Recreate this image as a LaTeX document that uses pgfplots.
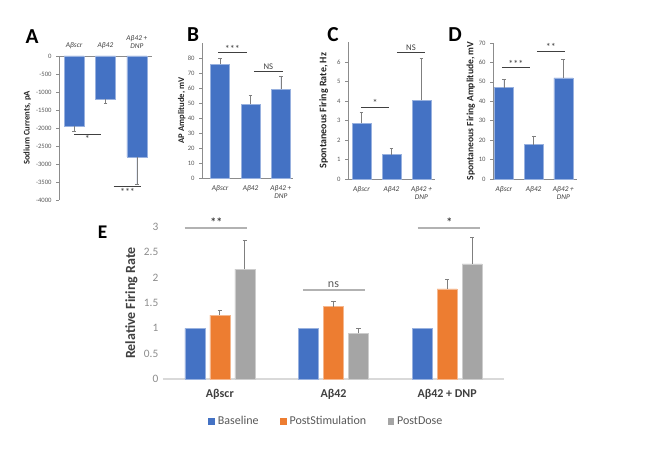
\documentclass[border=0pt]{standalone}
\usepackage{fontspec}
\setmainfont{Carlito}
\usepackage{pgfplots}
\pgfplotsset{compat=1.18}
\definecolor{bblue}{HTML}{4472C4}
\definecolor{borange}{HTML}{ED7D31}
\definecolor{bgray}{HTML}{A5A5A5}
\definecolor{axgray}{HTML}{8C8C8C}
\definecolor{tgray}{HTML}{595959}
\definecolor{lgray}{HTML}{8C8C8C}
\definecolor{dtext}{HTML}{404040}
\definecolor{ebgray}{HTML}{7F7F7F}

\pgfplotsset{
  panel/.style={
    scale only axis, anchor=south west, clip=false,
    ybar, bar width=14.25pt,
    axis y line*=left, axis x line*=bottom,
    axis line style={draw=axgray, line width=0.5pt},
    xtick={0,1,2},
    xticklabels={Aβscr, Aβ42, Aβ42 +\\DNP},
    x tick label style={font=\fontsize{5.5}{6}\itshape, align=center, text=dtext},
    y tick label style={font=\fontsize{5}{6}\selectfont, text=tgray},
    /pgf/number format/assume math mode=true,
    /pgf/number format/1000 sep={},
    ylabel style={font=\fontsize{6.5}{7}\bfseries, text=black!85},
    tick align=outside, major tick length=2pt,
    ytick style={draw=axgray, line width=0.4pt},
    xtick style={draw=none},
    error bars/y dir=plus, error bars/y explicit,
    error bars/error bar style={draw=ebgray, line width=0.4pt},
    error bars/error mark options={rotate=90, mark size=1.4pt, draw=ebgray, line width=0.4pt},
  },
  pbar/.style={fill=bblue, draw=bblue!55!white, line width=0.4pt},
}
\tikzset{
  sig/.style={draw=dtext, line width=0.4pt},
  sigtxt/.style={font=\fontsize{7.5}{7.5}\selectfont, text=dtext, inner sep=0.3pt},
}

\begin{document}
\begin{tikzpicture}
\path (0pt,0pt) rectangle (501.75pt,339pt);

% Panel letters
\node[font=\fontsize{16}{16}\bfseries\selectfont] at (24pt,311.25pt) {A};
\node[font=\fontsize{16}{16}\bfseries\selectfont] at (144.75pt,312.75pt) {B};
\node[font=\fontsize{16}{16}\bfseries\selectfont] at (249.75pt,312.75pt) {C};
\node[font=\fontsize{16}{16}\bfseries\selectfont] at (341.25pt,312.75pt) {D};
\node[font=\fontsize{14.5}{14.5}\bfseries\selectfont] at (77pt,165pt) {E};

% A
\begin{axis}[panel, at={(44.25pt,189pt)}, width=69.75pt, height=108pt, bar width=15pt,
  xmin=-0.48, xmax=2.48, ymin=-4000, ymax=0, ytick={-4000,-3500,...,0},
  axis x line*=top, error bars/y dir=minus,
  ylabel={Sodium Currents, pA}, ylabel shift=-3pt]
\addplot[pbar] coordinates {(0,-1950) +- (0,130) (1,-1200) +- (0,100) (2,-2800) +- (0,750)};
\draw[sig] (axis cs:0,-2170) -- (axis cs:0.85,-2170);
\node[sigtxt, anchor=north] at (axis cs:0.42,-2200) {*};
\draw[sig] (axis cs:1.26,-3630) -- (axis cs:2.13,-3630);
\node[sigtxt, anchor=north] at (axis cs:1.7,-3660) {***};
\end{axis}

% B
\begin{axis}[panel, at={(151.5pt,205.5pt)}, width=68.25pt, height=101.25pt,
  xmin=-0.6, xmax=2.4, ymin=0, ymax=90, ytick={0,10,...,80},
  ylabel={AP Amplitude, mV}, ylabel shift=-5pt]
\addplot[pbar] coordinates {(0,76) +- (0,4) (1,49) +- (0,6) (2,59) +- (0,8.5)};
\draw[sig] (axis cs:-0.07,83.5) -- (axis cs:0.88,83.5);
\node[sigtxt, anchor=south] at (axis cs:0.4,83.5) {***};
\draw[sig] (axis cs:1.11,71.3) -- (axis cs:2.07,71.3);
\node[sigtxt, anchor=south, font=\fontsize{6.5}{6.5}\selectfont] at (axis cs:1.59,71.8) {NS};
\end{axis}

% C
\begin{axis}[panel, at={(261pt,204.75pt)}, width=65.25pt, height=102.375pt,
  xmin=-0.45, xmax=2.45, ymin=0, ymax=7, ytick={0,1,...,6},
  ylabel={Spontaneous Firing Rate, Hz}, ylabel style={font=\fontsize{7.5}{8}\bfseries}]
\addplot[pbar] coordinates {(0,2.85) +- (0,0.55) (1,1.25) +- (0,0.32) (2,4.05) +- (0,2.15)};
\draw[sig] (axis cs:-0.02,3.7) -- (axis cs:0.92,3.7);
\node[sigtxt, anchor=south] at (axis cs:0.45,3.7) {*};
\draw[sig] (axis cs:1.18,6.5) -- (axis cs:2.12,6.5);
\node[sigtxt, anchor=south, font=\fontsize{6.5}{6.5}\selectfont] at (axis cs:1.65,6.55) {NS};
\end{axis}

% D
\begin{axis}[panel, at={(369.75pt,204.75pt)}, width=63pt, height=102pt,
  xmin=-0.37, xmax=2.46, ymin=0, ymax=70, ytick={0,10,...,70},
  ylabel={Spontaneous Firing Amplitude, mV}, ylabel style={font=\fontsize{7.2}{8}\bfseries},
  ylabel shift=-4pt]
\addplot[pbar] coordinates {(0,47) +- (0,4.3) (1,17.7) +- (0,4.5) (2,52) +- (0,9.5)};
\draw[sig] (axis cs:-0.07,57.3) -- (axis cs:0.88,57.3);
\node[sigtxt, anchor=south] at (axis cs:0.4,57.3) {***};
\draw[sig] (axis cs:1.11,66) -- (axis cs:2.05,66);
\node[sigtxt, anchor=south] at (axis cs:1.58,66) {**};
\end{axis}

% E
\begin{axis}[scale only axis, anchor=south west, clip=false,
  at={(122.25pt,54.75pt)}, width=255.75pt, height=114pt,
  ybar, bar width=15pt,
  xmin=-0.5, xmax=2.5, ymin=0, ymax=3, ytick={0,0.5,...,3},
  axis x line*=bottom, axis y line*=left,
  x axis line style={draw=black!15, line width=0.9pt},
  y axis line style={draw=none},
  xtick={0,1,2}, xticklabels={Aβscr, Aβ42, Aβ42 + DNP},
  x tick label style={font=\fontsize{9}{10}\bfseries, text=dtext},
  y tick label style={font=\fontsize{8.5}{9}\selectfont, text=lgray},
  /pgf/number format/assume math mode=true,
  tick style={draw=none},
  ylabel={Relative Firing Rate}, ylabel style={font=\fontsize{10.5}{11}\bfseries, text=dtext},
  ylabel shift=-2pt,
  error bars/y dir=plus, error bars/y explicit,
  error bars/error bar style={draw=ebgray, line width=0.6pt},
  error bars/error mark options={rotate=90, mark size=1.6pt, draw=ebgray, line width=0.6pt},
  legend style={at={(0.48,-0.21)}, anchor=north, draw=none, legend columns=-1,
    font=\fontsize{9}{10}\selectfont, text=tgray,
    /tikz/every even column/.append style={column sep=14pt}},
  legend image code/.code={\draw[#1, draw=none] (0pt,-2.6pt) rectangle (5.2pt,2.6pt);}]
\addplot[fill=bblue, draw=bblue!55!white, line width=0.4pt, bar shift=-18.75pt]
  coordinates {(0,1) (1,1) (2,1)};
\addplot[fill=borange, draw=borange!55!white, line width=0.4pt, bar shift=0pt]
  coordinates {(0,1.26) +- (0,0.09) (1,1.43) +- (0,0.11) (2,1.78) +- (0,0.19)};
\addplot[fill=bgray, draw=bgray!55!white, line width=0.4pt, bar shift=18.75pt]
  coordinates {(0,2.17) +- (0,0.56) (1,0.9) +- (0,0.1) (2,2.27) +- (0,0.52)};
\legend{Baseline, PostStimulation, PostDose}
\draw[draw=black!30, line width=1.1pt] (axis cs:-0.31,2.98) -- (axis cs:0.24,2.98);
\node[font=\fontsize{9}{9}\bfseries, text=dtext, anchor=south, inner sep=1pt] at (axis cs:-0.03,2.98) {**};
\draw[draw=black!30, line width=1.1pt] (axis cs:0.73,1.76) -- (axis cs:1.28,1.76);
\node[font=\fontsize{9}{9}\selectfont, text=tgray, anchor=south, inner sep=1.5pt] at (axis cs:1.0,1.76) {ns};
\draw[draw=black!30, line width=1.1pt] (axis cs:1.74,2.98) -- (axis cs:2.29,2.98);
\node[font=\fontsize{9}{9}\bfseries, text=dtext, anchor=south, inner sep=1pt] at (axis cs:2.02,2.98) {*};
\end{axis}
\end{tikzpicture}
\end{document}
